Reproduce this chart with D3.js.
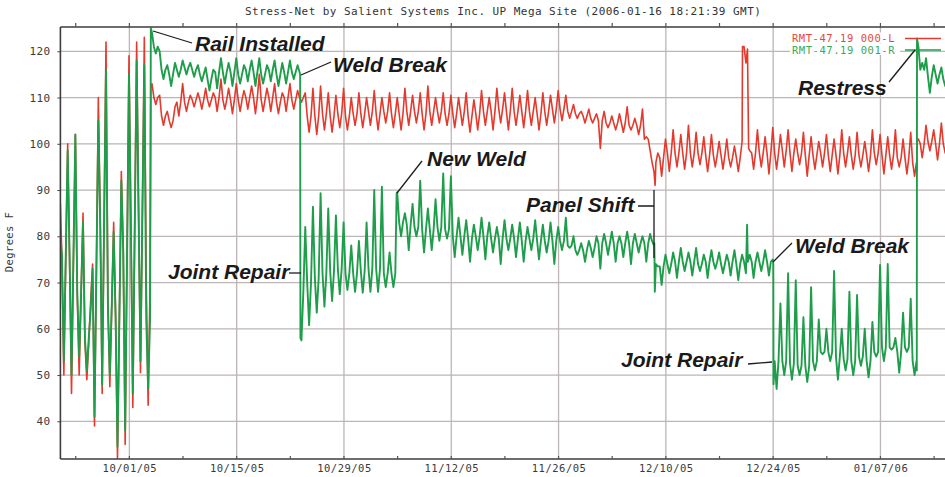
<!DOCTYPE html>
<html>
<head>
<meta charset="utf-8">
<script src="https://cdn.jsdelivr.net/npm/d3@7"></script>
<style>
  body { margin: 0; background: #fff; }
  svg { display: block; }
</style>
</head>
<body>
<div id="chart"></div>
<script>
// Stress-Net chart: two rail temperature traces (RMT) with event annotations

// ---- data ----
// day 0 = 2005-09-22 00:00 UTC; per day: a typical level, a trough (~11am) and a peak (~11pm)
var startDay = Date.UTC(2005, 8, 22);

var seriesNames = ["RMT-47.19 000-L", "RMT-47.19 001-R"];

// red trace
var redBase = [
  75, 74, 67, 57, 74, 84, 65, 63, 77, 82,
  86, 70, 110, 106, 105, 109, 109, 109.5, 109.5, 109.5,
  110, 109.5, 109.5, 109.5, 110, 110, 109.5, 110, 109, 110,
  109.5, 110, 106, 106, 106.5, 106, 106.5, 106, 106.5, 106.5,
  107, 106.5, 107, 106.5, 106.5, 107, 107, 106.5, 107, 107,
  106.5, 106.5, 107, 106, 106.5, 107, 107, 107.5, 107, 107,
  107, 107, 106.5, 107, 107.5, 107.5, 107, 106.5, 106, 105.5,
  105, 104.5, 104.5, 104.5, 104, 104, 101, 96, 97, 98,
  98, 98, 98, 98, 97.5, 97.5, 97.5, 97, 97, null,
  98, 98, 98, 98, 98.5, 98, 98, 97.5, 97.5, 98,
  97.5, 97.5, 98, 97.5, 97.5, 97.5, 98, 97.5, 97.5, 97,
  97, 96, 100, 100.5, 100, 100
];
var redLow = [
  50, 46, 50, 49, 39, 46, 47.5, 32, 35, 43,
  50.5, 43.5, 108.5, 104, 103.5, 106, 107, 108, 107.5, 108,
  107, 107.5, 106.5, 107, 107.5, 106.5, 107, 107, 106.5, 107,
  107.5, 109, 102.5, 102, 103, 102.5, 103.5, 103, 104, 103.5,
  104, 103, 104.5, 103.5, 103, 104, 104.5, 103, 104, 104.5,
  104, 103.5, 104, 102.5, 103, 104, 103, 104.5, 103, 104,
  103.5, 104, 103, 104, 104.5, 105, 105.5, 105.5, 104.5, 104.5,
  99, 103.5, 103, 102.5, 103, 102, 101.5, 94, 93, 94,
  95, 94.5, 95, 95.5, 94, 95, 94.5, 95, 94, 117.5,
  94.5, 95, 93.5, 94.5, 95, 94, 95.5, 93, 94.5, 95,
  94, 93.5, 95, 94.5, 95, 94, 95.5, 93.5, 94.5, 95,
  93.5, 93, 97, 98.5, 96.5, 98
];
var redHigh = [
  100, 102, 85, 66, 110, 122, 83, 94, 119, 122,
  123, 113, 110.5, 107, 108, 113, 110.5, 111, 112, 111,
  114, 112, 113, 111.5, 112.5, 115, 112, 113, 111, 113,
  111.5, 111, 112, 112.5, 111, 110.5, 112, 110, 111, 110,
  111.5, 110, 111, 110, 112, 110.5, 111, 112.5, 110, 111,
  110.5, 110, 111, 109.5, 111.5, 110, 112, 111, 112, 110.5,
  111.5, 110, 111, 110.5, 111.5, 110.5, 108.5, 107, 107.5, 106.5,
  107, 106, 106.5, 108, 105.5, 107.5, 98.5, 98, 101, 103,
  102, 104, 102.5, 101.5, 102, 100.5, 101, 99.5, 100.5, 98.5,
  103, 101.5, 103.5, 102, 103, 101, 102.5, 101.5, 100.5, 102,
  101, 103, 101.5, 102.5, 100.5, 103, 102, 101.5, 103, 101,
  102.5, 101, 104, 103, 104.5, 102
];
// red: start, rail install, panel shift dip, 12/20 spike, restress  [day, °F]
var redEvents = [
  [0, 87], [11.8, 112], [77.6, 91],
  [89.0, 121], [89.2, 121], [89.65, 120.5], [89.8, 99],
  [111.75, 94], [111.77, 101]
];

// green trace
var greenBase = [
  76, 76, 68, 58, 73, 82, 65, 63, 77, 82,
  85, 62, 121, 116, 115, 116, 116.5, 116, 115, 114,
  115.5, 115.5, 115.5, 115, 116, 115.5, 115, 116, 115, 115.5,
  115.5, null, 70, 71, 72, 72.5, 73, 72, 72, 72.5,
  73, 73, 72, 72, 83, 82.5, 82, 81.5, 81.5, 82,
  81.5, 80, 80, 79.5, 80, 80, 79.5, 79.5, 79.5, 79.5,
  79, 79.5, 79, 79, 79, 79, 78, 77, 77, 77.5,
  78.5, 78.5, 78.5, 78.5, 78.5, 78.5, 78.5, null, 73.5, 74,
  74.5, 74.5, 74.5, 74, 74.5, 74.5, 74, 74.5, 74, 74.5,
  74.5, 74.5, 74.5, 53, 53, 52.5, 52, 52, 53, 55,
  55, 54, 53.5, 53, 54, 53, 55, 56, 56, 55,
  56, 53, 116, 114.5, 115, 114
];
var greenLow = [
  53, 50, 54, 51, 41, 48, 50, 34.5, 38, 46,
  53, 47, 119.5, 114, 112.5, 114.5, 115, 114.5, 113.5, 111.5,
  112, 113, 112.5, 113, 113.5, 112.5, 113, 113.5, 112.5, 113,
  114, 57.5, 60.8, 63.5, 64.8, 66, 67.5, 68.4, 68, 67.8,
  68, 68, 69, 69, 80, 77, 80, 76.5, 77, 79,
  79.5, 75.5, 76, 74.5, 77, 75, 76.5, 74, 77, 75.5,
  74.5, 77, 75, 76.5, 74, 77, 77.5, 76, 74.5, 75.5,
  73, 76, 74.5, 75.5, 74, 76.5, 74.5, 78, 69.5, 72,
  71, 72.5, 71.5, 72.5, 71, 73, 72, 71.5, 70.5, 72,
  71, 72.5, 71.5, 47, 50, 49, 50, 48.5, 51, 54.5,
  53, 49, 51, 50, 52, 49.5, 54, 53, 55.5, 50.5,
  55, 50, 117.5, 111, 113, 112.5
];
var greenHigh = [
  98.5, 102, 83, 64, 105, 116, 81, 92, 115, 118,
  117, 124, 120, 117, 117.5, 118, 117.5, 117, 116.5, 116,
  118.5, 117.5, 118.5, 117, 118, 118.5, 117, 118, 117.5, 118,
  117, 82, 86.4, 89.3, 86, 84.5, 83, 78, 79, 83,
  90, 90.7, 76.5, 89.5, 85, 87, 92, 86, 88, 93.6,
  93, 84, 83.5, 82.5, 84, 83, 82, 83.5, 82.5, 83,
  82, 83.5, 82.5, 83, 82, 84, 80, 78.5, 79, 80,
  80.5, 81, 80, 81, 80.5, 80, 80.5, 73.5, 76, 76.5,
  77.5, 76.5, 77.5, 76, 77, 76.5, 76, 77, 76, 76,
  76.5, 77, 75, 65.5, 72, 70.5, 62.5, 69, 62, 60,
  72.5, 60, 68, 67.3, 60, 61.5, 73.8, 74, 58, 63.5,
  66.5, 121, 118.5, 117, 116.5, 115
];
// green: start, rail installed, weld break, new weld, panel shift, spike, weld break, restress
var greenEvents = [
  [0, 80], [11.8, 125],
  [31.2, 115.5], [31.28, 115], [31.32, 58], [31.7, 68],
  [43.87, 89.3],
  [77.2, 79], [77.5, 78.5], [77.56, 68], [77.7, 74],
  [89.6, 82.5],
  [93.02, 74], [93.05, 48],
  [111.74, 51], [111.77, 122.8]
];

var yTicks = [40, 50, 60, 70, 80, 90, 100, 110, 120];
var xTickLabels = ["10/01/05", "10/15/05", "10/29/05", "11/12/05", "11/26/05", "12/10/05", "12/24/05", "01/07/06"];

// annotation text and where it sits (layout, in px)
var notes = [
  { text: "Rail Installed", x: 195, y: 51, line: [[153, 31], [192, 43]] },
  { text: "Weld Break",     x: 333, y: 72, line: [[301, 75], [331, 62]] },
  { text: "New Weld",       x: 427, y: 166, line: [[397, 193], [422, 161]] },
  { text: "Panel Shift",    x: 526, y: 212, line: [[638, 206], [654, 206], [654, 190], [654, 258]] },
  { text: "Joint Repair",   x: 168, y: 279, line: [[289, 273], [301, 273]] },
  { text: "Weld Break",     x: 795, y: 253, line: [[773, 262], [792, 243]] },
  { text: "Joint Repair",   x: 621, y: 367, line: [[748, 364], [772, 362]] },
  { text: "Restress",       x: 798, y: 95, line: [[889, 82], [915, 50]] }
];

// ---- set up ----
var svgWidth = 945;
var svgHeight = 477;

var margin = { top: 27, left: 60.4, bottom: 459 };
var pxPerDay = 7.664;
var totalDays = 117;

var svg = d3.select("#chart")
  .append("svg")
  .attr("width", svgWidth)
  .attr("height", svgHeight)
  .style("font-family", "'DejaVu Sans Mono', monospace");

var dayMs = 86400000;
var toDate = function(t) { return new Date(startDay + t * dayMs); };

var x = d3.scaleUtc()
  .domain([toDate(0), toDate(totalDays)])
  .range([margin.left, margin.left + totalDays * pxPerDay]);

var y = d3.scaleLinear()
  .domain([31.85, 125.25])
  .range([margin.bottom, margin.top]);

var plotRight = svgWidth + 20;

// merge daily level / trough / peak with the event points
function buildSeries(base, low, high, events) {
  var pts = [];
  low.forEach(function(v, d) {
    if (base[d] != null) pts.push({ t: d + 0.2, v: base[d] });
    pts.push({ t: d + 0.45, v: v });
    if (base[d] != null) pts.push({ t: d + 0.7, v: base[d] });
    pts.push({ t: d + 0.95, v: high[d] });
  });
  events.forEach(function(e) { pts.push({ t: e[0], v: e[1] }); });
  pts.sort(function(a, b) { return a.t - b.t; });
  return pts;
}

var redSeries = buildSeries(redBase, redLow, redHigh, redEvents);
var greenSeries = buildSeries(greenBase, greenLow, greenHigh, greenEvents);

var parseTick = d3.utcParse("%m/%d/%y");
var majorDates = xTickLabels.map(parseTick);
var minorDates = d3.range(0, 17).map(function(k) { return toDate(2 + 7 * k); });

// ---- grid ----
var grid = svg.append("g").attr("stroke", "#bcb6b6").attr("stroke-width", 1.3);

grid.selectAll(".hg")
  .data(yTicks)
  .enter().append("line")
  .attr("x1", margin.left).attr("x2", plotRight)
  .attr("y1", function(d) { return y(d); })
  .attr("y2", function(d) { return y(d); });

grid.selectAll(".vg")
  .data(majorDates)
  .enter().append("line")
  .attr("x1", function(d) { return x(d); })
  .attr("x2", function(d) { return x(d); })
  .attr("y1", margin.top).attr("y2", margin.bottom);

// ---- series ----
svg.append("clipPath").attr("id", "plot")
  .append("rect")
  .attr("x", margin.left).attr("y", margin.top)
  .attr("width", plotRight - margin.left)
  .attr("height", margin.bottom - margin.top);

var line = d3.line()
  .x(function(d) { return x(toDate(d.t)); })
  .y(function(d) { return y(d.v); });

var plot = svg.append("g").attr("clip-path", "url(#plot)");

plot.append("path")
  .datum(redSeries)
  .attr("fill", "none")
  .attr("stroke", "#e4392c")
  .attr("stroke-width", 1.6)
  .attr("stroke-linejoin", "round")
  .attr("d", line);

plot.append("path")
  .datum(greenSeries)
  .attr("fill", "none")
  .attr("stroke", "#1e9e4a")
  .attr("stroke-width", 1.9)
  .attr("stroke-linejoin", "round")
  .attr("d", line);

// ---- axes ----
var xAxis = d3.axisBottom(x)
  .tickValues(majorDates)
  .tickFormat(d3.utcFormat("%m/%d/%y"))
  .tickSize(0)
  .tickPadding(6);

var gx = svg.append("g")
  .attr("transform", "translate(0," + margin.bottom + ")")
  .call(xAxis);
gx.select(".domain").remove();
gx.selectAll("text")
  .attr("font-size", 10.5)
  .attr("letter-spacing", 0.5)
  .attr("fill", "#3a3a3a")
  .style("font-family", "'DejaVu Sans Mono', monospace");

var yAxis = d3.axisLeft(y)
  .tickValues(yTicks)
  .tickSize(3)
  .tickPadding(5);

var gy = svg.append("g")
  .attr("transform", "translate(" + margin.left + ",0)")
  .call(yAxis);
gy.select(".domain").remove();
gy.selectAll("line").attr("stroke", "#444");
gy.selectAll("text")
  .attr("font-size", 11)
  .attr("letter-spacing", 0.3)
  .attr("fill", "#3a3a3a")
  .attr("dx", -2)
  .style("font-family", "'DejaVu Sans Mono', monospace");

// frame: left, top, bottom
var frame = svg.append("g").attr("stroke", "#3d3d3d").attr("stroke-width", 1.6);
frame.append("line").attr("x1", margin.left).attr("x2", margin.left).attr("y1", margin.top).attr("y2", margin.bottom);
frame.append("line").attr("x1", margin.left).attr("x2", plotRight).attr("y1", margin.top).attr("y2", margin.top);
frame.append("line").attr("x1", margin.left).attr("x2", plotRight).attr("y1", margin.bottom).attr("y2", margin.bottom);

// weekly minor ticks on top and bottom edges
var ticks = svg.append("g").attr("stroke", "#555").attr("stroke-width", 1.2);
ticks.selectAll(".tt")
  .data(minorDates)
  .enter().append("line")
  .attr("x1", function(d) { return x(d); })
  .attr("x2", function(d) { return x(d); })
  .attr("y1", margin.top - 4).attr("y2", margin.top);
ticks.selectAll(".bt")
  .data(minorDates)
  .enter().append("line")
  .attr("x1", function(d) { return x(d); })
  .attr("x2", function(d) { return x(d); })
  .attr("y1", margin.bottom - 3).attr("y2", margin.bottom);

// axis title
svg.append("text")
  .attr("transform", "translate(13,242) rotate(-90)")
  .attr("text-anchor", "middle")
  .attr("font-size", 10.5)
  .attr("letter-spacing", 0.4)
  .attr("fill", "#3a3a3a")
  .text("Degrees F");

// chart title
svg.append("text")
  .attr("x", 245)
  .attr("y", 14.5)
  .attr("font-size", 11)
  .attr("letter-spacing", 0.45)
  .attr("fill", "#333")
  .text("Stress-Net by Salient Systems Inc. UP Mega Site  (2006-01-16 18:21:39 GMT)");

// ---- legend ----
var legendColors = ["#e8473a", "#3aa85a"];
var legendLineColors = ["#e4392c", "#1e9e4a"];
var legend = svg.append("g");
seriesNames.forEach(function(name, i) {
  var ly = 38.5 + i * 11.5;
  legend.append("rect")
    .attr("x", 790).attr("y", ly - 6).attr("width", 110).attr("height", 11)
    .attr("fill", "#fff");
  legend.append("text")
    .attr("x", 792).attr("y", ly + 3.5)
    .attr("font-size", 10.5)
    .attr("letter-spacing", 0.55)
    .attr("fill", legendColors[i])
    .text(name);
  legend.append("line")
    .attr("x1", 905).attr("x2", 941)
    .attr("y1", ly).attr("y2", ly)
    .attr("stroke", legendLineColors[i])
    .attr("stroke-width", 1.6);
});

// ---- annotations ----
var noteLine = d3.line();
var ann = svg.append("g");
notes.forEach(function(n) {
  ann.append("path")
    .attr("d", noteLine(n.line))
    .attr("fill", "none")
    .attr("stroke", "#1c1c1c")
    .attr("stroke-width", 1.3);
  ann.append("text")
    .attr("x", n.x).attr("y", n.y)
    .attr("font-family", "'Liberation Sans', Arial, sans-serif")
    .attr("font-weight", "bold")
    .attr("font-style", "italic")
    .attr("font-size", 21)
    .attr("fill", "#1a1a1a")
    .text(n.text);
});
</script>
</body>
</html>
